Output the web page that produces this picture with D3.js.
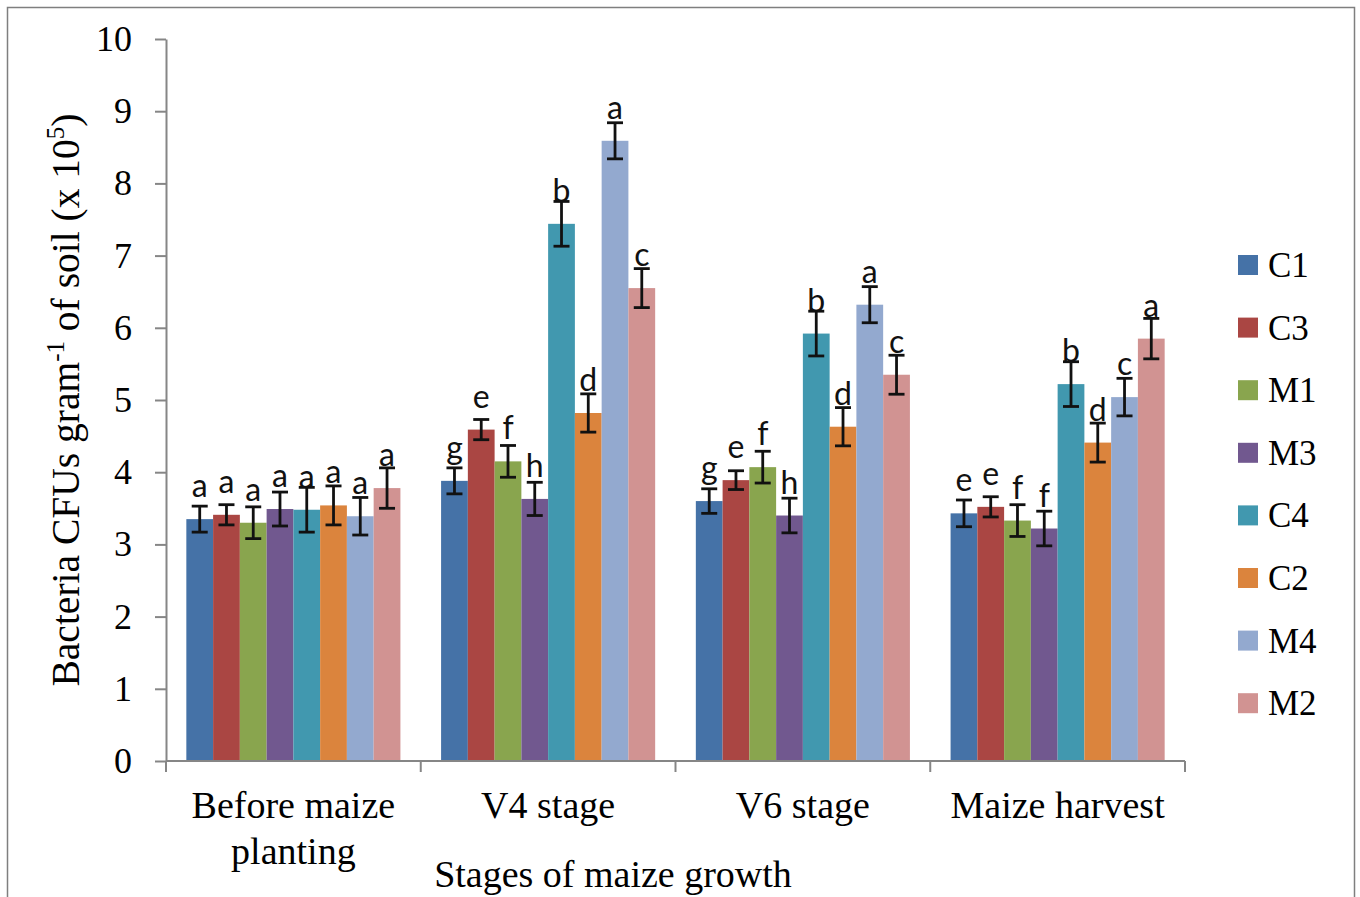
<!DOCTYPE html>
<html>
<head>
    <meta charset="utf-8">
    <title>Bacteria CFUs by maize growth stage</title>
    <script src="https://d3js.org/d3.v7.min.js"></script>
    <style>
        body { margin: 0; background: #fff; }
        svg { display: block; }
    </style>
</head>
<body>
    <div id="chart"></div>
    <script>
        // data
        const stages = ["Before maize planting", "V4 stage", "V6 stage", "Maize harvest"];
        const series = ["C1", "C3", "M1", "M3", "C4", "C2", "M4", "M2"];
        const colors = ["#4572A7", "#AA4643", "#89A54E", "#71588F", "#4198AF", "#DB843D", "#93A9CF", "#D19392"];

        // values per series, one per stage
        const means = {
            C1: [3.35, 3.88, 3.60, 3.43],
            C3: [3.41, 4.59, 3.89, 3.52],
            M1: [3.30, 4.15, 4.07, 3.33],
            M3: [3.49, 3.63, 3.40, 3.22],
            C4: [3.48, 7.44, 5.92, 5.22],
            C2: [3.54, 4.82, 4.63, 4.41],
            M4: [3.39, 8.59, 6.32, 5.04],
            M2: [3.78, 6.55, 5.35, 5.85]
        };
        const errors = {
            C1: [0.18, 0.18, 0.17, 0.185],
            C3: [0.14, 0.14, 0.13, 0.14],
            M1: [0.22, 0.22, 0.22, 0.22],
            M3: [0.235, 0.23, 0.24, 0.24],
            C4: [0.31, 0.31, 0.31, 0.31],
            C2: [0.27, 0.265, 0.265, 0.27],
            M4: [0.26, 0.25, 0.25, 0.26],
            M2: [0.28, 0.27, 0.27, 0.28]
        };
        const letters = {
            C1: ["a", "g", "g", "e"],
            C3: ["a", "e", "e", "e"],
            M1: ["a", "f", "f", "f"],
            M3: ["a", "h", "h", "f"],
            C4: ["a", "b", "b", "b"],
            C2: ["a", "d", "d", "d"],
            M4: ["a", "a", "a", "c"],
            M2: ["a", "c", "c", "a"]
        };
        const yTicks = [0, 1, 2, 3, 4, 5, 6, 7, 8, 9, 10];

        const W = 1360, H = 897;
        const plot = { left: 166, right: 1185, top: 39, bottom: 761 };
        const serif = "'Liberation Serif', 'Times New Roman', serif";

        const svg = d3.select("#chart")
            .append("svg")
            .attr("width", W)
            .attr("height", H);

        // outer frame
        svg.append("rect")
            .attr("x", 7.5).attr("y", 7.5)
            .attr("width", 1347).attr("height", H + 20)
            .attr("fill", "#fff")
            .attr("stroke", "#7f7f7f")
            .attr("stroke-width", 1.5);

        const x0 = d3.scaleBand()
            .domain(stages)
            .range([plot.left, plot.right]);

        const x1 = d3.scaleBand()
            .domain(series)
            .range([0, x0.bandwidth()])
            .paddingOuter(0.76);

        const y = d3.scaleLinear()
            .domain([0, 10])
            .range([plot.bottom, plot.top]);

        const rows = [];
        series.forEach(s => {
            stages.forEach((st, i) => {
                rows.push({ s: s, stage: st, v: means[s][i], e: errors[s][i], l: letters[s][i] });
            });
        });

        // bars
        svg.append("g")
            .selectAll("rect")
            .data(rows)
            .join("rect")
            .attr("x", d => x0(d.stage) + x1(d.s))
            .attr("y", d => y(d.v))
            .attr("width", x1.bandwidth())
            .attr("height", d => y(0) - y(d.v))
            .attr("fill", d => colors[series.indexOf(d.s)]);

        // error bars
        const eb = svg.append("g")
            .attr("stroke", "#111")
            .attr("stroke-width", 2.8);
        const cx = d => x0(d.stage) + x1(d.s) + x1.bandwidth() / 2;
        eb.selectAll(".stem")
            .data(rows)
            .join("line")
            .attr("x1", cx).attr("x2", cx)
            .attr("y1", d => y(d.v + d.e))
            .attr("y2", d => y(d.v - d.e));
        eb.selectAll(".capTop")
            .data(rows)
            .join("line")
            .attr("x1", d => cx(d) - 8).attr("x2", d => cx(d) + 8)
            .attr("y1", d => y(d.v + d.e)).attr("y2", d => y(d.v + d.e));
        eb.selectAll(".capBot")
            .data(rows)
            .join("line")
            .attr("x1", d => cx(d) - 8).attr("x2", d => cx(d) + 8)
            .attr("y1", d => y(d.v - d.e)).attr("y2", d => y(d.v - d.e));

        // letters
        svg.append("g")
            .selectAll("text")
            .data(rows)
            .join("text")
            .attr("x", cx)
            .attr("y", d => y(d.v) - 22)
            .attr("text-anchor", "middle")
            .attr("font-family", "Lato, 'Open Sans', sans-serif")
            .attr("font-size", 32)
            .attr("fill", "#111")
            .text(d => d.l);

        // y axis
        const yAxis = svg.append("g")
            .attr("transform", `translate(${plot.left},0)`)
            .call(d3.axisLeft(y).tickValues(yTicks).tickSize(11).tickPadding(23).tickSizeOuter(0));
        yAxis.select(".domain").attr("stroke", "#868686").attr("stroke-width", 2);
        yAxis.selectAll(".tick line").attr("stroke", "#868686").attr("stroke-width", 2);
        yAxis.selectAll(".tick text")
            .attr("font-family", serif)
            .attr("font-size", 36)
            .attr("fill", "#000");

        // x axis line and category boundary ticks
        const xa = svg.append("g")
            .attr("stroke", "#868686")
            .attr("stroke-width", 2);
        xa.append("line")
            .attr("x1", plot.left).attr("x2", plot.right)
            .attr("y1", y(0)).attr("y2", y(0));
        const bounds = stages.map(s => x0(s)).concat([plot.right]);
        xa.selectAll(".bt")
            .data(bounds)
            .join("line")
            .attr("x1", d => d).attr("x2", d => d)
            .attr("y1", y(0)).attr("y2", y(0) + 11);

        // category labels
        const catLines = [["Before maize", "planting"], ["V4 stage"], ["V6 stage"], ["Maize harvest"]];
        const cl = svg.append("g")
            .attr("font-family", serif)
            .attr("font-size", 38)
            .attr("text-anchor", "middle")
            .attr("fill", "#000");
        stages.forEach((s, i) => {
            const t = cl.append("text")
                .attr("x", x0(s) + x0.bandwidth() / 2)
                .attr("y", 818);
            catLines[i].forEach((ln, j) => {
                t.append("tspan")
                    .attr("x", x0(s) + x0.bandwidth() / 2)
                    .attr("dy", j === 0 ? 0 : 46)
                    .text(ln);
            });
        });

        // x axis title
        svg.append("text")
            .attr("x", 613)
            .attr("y", 887)
            .attr("text-anchor", "middle")
            .attr("font-family", serif)
            .attr("font-size", 38)
            .attr("fill", "#000")
            .text("Stages of maize growth");

        // y axis title
        const yt = svg.append("text")
            .attr("transform", "translate(79,400) rotate(-90)")
            .attr("text-anchor", "middle")
            .attr("font-family", serif)
            .attr("font-size", 39.5)
            .attr("fill", "#000");
        yt.append("tspan").text("Bacteria CFUs gram");
        yt.append("tspan").attr("font-size", 25).attr("dy", -15).text("-1");
        yt.append("tspan").attr("dy", 15).text(" of soil (x 10");
        yt.append("tspan").attr("font-size", 25).attr("dy", -15).text("5");
        yt.append("tspan").attr("dy", 15).text(")");

        // legend
        const lg = svg.append("g");
        const lgItem = lg.selectAll("g")
            .data(series)
            .join("g")
            .attr("transform", (d, i) => `translate(1238,${265 + i * 62.6})`);
        lgItem.append("rect")
            .attr("x", 0).attr("y", -10)
            .attr("width", 20).attr("height", 20)
            .attr("fill", (d, i) => colors[i]);
        lgItem.append("text")
            .attr("x", 30)
            .attr("y", 12)
            .attr("font-family", serif)
            .attr("font-size", 35)
            .attr("fill", "#000")
            .text(d => d);
    </script>
</body>
</html>
